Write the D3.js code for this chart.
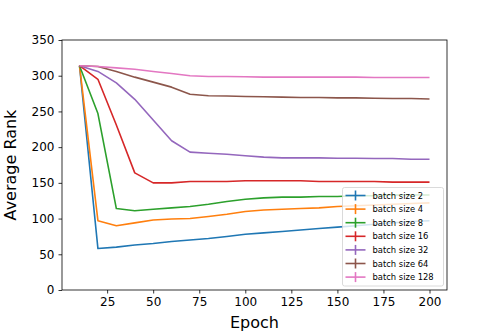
<!DOCTYPE html>
<html>
<head>
<meta charset="utf-8">
<script src="https://d3js.org/d3.v7.min.js"></script>
<style>
  body { margin: 0; background: #fff; }
  text { font-family: "DejaVu Sans", sans-serif; }
</style>
</head>
<body>
<div id="my_dataviz"></div>
<script>
// Average rank per epoch for several batch sizes

var epochs = [10, 20, 30, 40, 50, 60, 70, 80, 90, 100, 110, 120, 130, 140, 150, 160, 170, 180, 190, 200];

var bs2   = [314, 58, 60, 63, 65, 68, 70, 72, 75, 78, 80, 82, 84, 86, 88, 90, 92, 94, 96, 97];
var bs4   = [314, 97, 90, 94, 98, 99.5, 100, 103, 106, 110, 112, 113, 114, 115, 117, 118, 119, 120, 121, 122];
var bs8   = [314, 247, 114, 111, 113, 115, 117, 120, 124, 127, 129, 130, 130, 131, 131, 132, 132, 133, 133, 133];
var bs16  = [314, 295, 231, 164, 150, 150, 152, 152, 152, 153, 153, 153, 153, 152, 152, 152, 152, 151, 151, 151];
var bs32  = [314, 306, 290, 267, 238, 209, 193, 191.5, 190, 188, 186, 185, 185, 185, 184.5, 184.5, 184, 184, 183, 183];
var bs64  = [314, 313, 306, 298, 291, 284, 274, 272, 271.5, 271, 270.5, 270, 269.5, 269.5, 269, 269, 268.5, 268, 268, 267.5];
var bs128 = [314, 313, 311, 309, 306, 303, 300, 299, 299, 298.5, 298, 298, 298, 298, 298, 298, 297.5, 297.5, 297.5, 297.5];

var seriesNames = ["batch size 2", "batch size 4", "batch size 8", "batch size 16", "batch size 32", "batch size 64", "batch size 128"];
var seriesValues = [bs2, bs4, bs8, bs16, bs32, bs64, bs128];
var colors = ["#1f77b4", "#ff7f0e", "#2ca02c", "#d62728", "#9467bd", "#8c564b", "#e377c2"];

var xTicks = [25, 50, 75, 100, 125, 150, 175, 200];
var yTicks = [0, 50, 100, 150, 200, 250, 300, 350];

// set the dimensions and margins of the graph
var margin = {top: 40, right: 51, bottom: 42, left: 62},
  width = 498 - margin.left - margin.right,
  height = 332 - margin.top - margin.bottom;

var svg = d3.select("#my_dataviz")
  .append("svg")
    .attr("width", 498)
    .attr("height", 332)
  .append("g")
    .attr("transform", "translate(" + margin.left + "," + margin.top + ")");

// scales (matplotlib style 5% margin on x)
var x = d3.scaleLinear()
  .domain([0.5, 209.5])
  .range([0, width]);

var y = d3.scaleLinear()
  .domain([0, 350])
  .range([height, 0]);

// x axis
var xAxis = svg.append("g")
  .attr("transform", "translate(0," + height + ")")
  .call(d3.axisBottom(x).tickValues(xTicks).tickSize(3.5).tickPadding(4));
xAxis.select(".domain").remove();
xAxis.selectAll("text").style("font-size", "12px").style("fill", "#000")
  .style("font-family", "DejaVu Sans");
xAxis.selectAll("line").style("stroke", "#000").style("stroke-width", 0.8);

// y axis
var yAxis = svg.append("g")
  .call(d3.axisLeft(y).tickValues(yTicks).tickSize(3.5).tickPadding(4));
yAxis.select(".domain").remove();
yAxis.selectAll("text").style("font-size", "12px").style("fill", "#000")
  .style("font-family", "DejaVu Sans");
yAxis.selectAll("line").style("stroke", "#000").style("stroke-width", 0.8);

// lines
var line = d3.line()
  .x(function(d, i) { return x(epochs[i]); })
  .y(function(d) { return y(d); });

svg.selectAll(".series")
  .data(seriesValues)
  .enter()
  .append("path")
    .attr("class", "series")
    .attr("d", line)
    .style("fill", "none")
    .style("stroke", function(d, i) { return colors[i]; })
    .style("stroke-width", 1.6)
    .style("stroke-linejoin", "round");

// frame
svg.append("rect")
  .attr("x", 0)
  .attr("y", 0)
  .attr("width", width)
  .attr("height", height)
  .style("fill", "none")
  .style("stroke", "#000")
  .style("stroke-width", 0.8);

// axis labels
svg.append("text")
  .attr("x", width / 2)
  .attr("y", 288 - margin.top + 40)
  .attr("text-anchor", "middle")
  .style("font-size", "16px")
  .text("Epoch");

svg.append("text")
  .attr("transform", "rotate(-90)")
  .attr("x", -height / 2)
  .attr("y", 16 - margin.left)
  .attr("text-anchor", "middle")
  .style("font-size", "16px")
  .text("Average Rank");

// legend
var legendX = 342.5 - margin.left,
  legendY = 187.5 - margin.top,
  rowH = 13.6;

svg.append("rect")
  .attr("x", legendX)
  .attr("y", legendY)
  .attr("width", 101)
  .attr("height", 98.5)
  .attr("rx", 2)
  .style("fill", "#fff")
  .style("fill-opacity", 0.8)
  .style("stroke", "#d0d0d0")
  .style("stroke-width", 0.8);

var legend = svg.selectAll(".legend")
  .data(seriesNames)
  .enter()
  .append("g")
  .attr("class", "legend")
  .attr("transform", function(d, i) {
    return "translate(" + legendX + "," + (legendY + 8 + i * rowH) + ")";
  });

legend.append("line")
  .attr("x1", 3)
  .attr("x2", 23)
  .style("stroke", function(d, i) { return colors[i]; })
  .style("stroke-width", 1.6);

legend.append("line")
  .attr("x1", 13)
  .attr("x2", 13)
  .attr("y1", -5)
  .attr("y2", 5)
  .style("stroke", function(d, i) { return colors[i]; })
  .style("stroke-width", 1.6);

legend.append("text")
  .attr("x", 30)
  .attr("y", 3)
  .style("font-size", "8.4px")
  .style("fill", "#000")
  .text(function(d) { return d; });
</script>
</body>
</html>
